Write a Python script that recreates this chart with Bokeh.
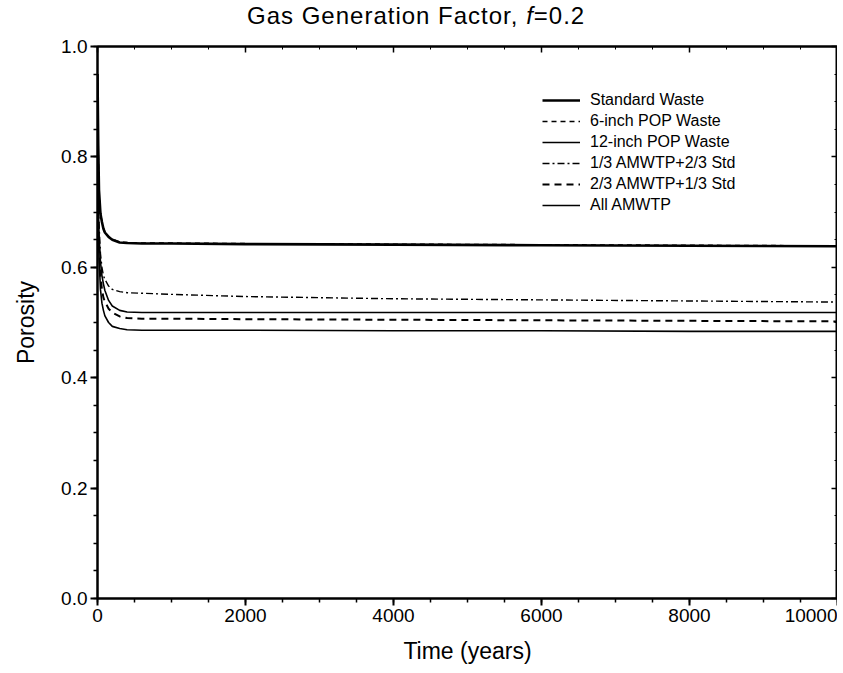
from bokeh.plotting import figure
from bokeh.models import (LinearAxis, Range1d, FixedTicker, Legend, LegendItem, Div)
from bokeh.layouts import column
from bokeh.embed import file_html
from bokeh.resources import INLINE

# ---- data ----
time_years = [0, 10, 20, 40, 60, 80, 100, 150, 200, 300, 400, 600, 1000, 2000, 4000, 6000, 8000, 10000]

standard_waste = [0.95, 0.82, 0.74, 0.697, 0.682, 0.670, 0.663, 0.655, 0.650, 0.645, 0.644, 0.643, 0.643, 0.642, 0.641, 0.640, 0.639, 0.638]
pop6_waste     = [0.95, 0.82, 0.74, 0.698, 0.683, 0.671, 0.664, 0.656, 0.651, 0.646, 0.645, 0.644, 0.644, 0.643, 0.642, 0.641, 0.640, 0.639]
pop12_waste    = [0.90, 0.72, 0.66, 0.610, 0.585, 0.570, 0.558, 0.540, 0.530, 0.522, 0.519, 0.518, 0.518, 0.518, 0.518, 0.518, 0.518, 0.518]
amwtp13_std23  = [0.90, 0.74, 0.68, 0.625, 0.600, 0.585, 0.578, 0.566, 0.560, 0.556, 0.554, 0.553, 0.551, 0.547, 0.543, 0.541, 0.539, 0.537]
amwtp23_std13  = [0.90, 0.70, 0.64, 0.585, 0.560, 0.545, 0.538, 0.525, 0.518, 0.511, 0.508, 0.507, 0.507, 0.506, 0.505, 0.504, 0.503, 0.502]
all_amwtp      = [0.90, 0.68, 0.62, 0.560, 0.535, 0.522, 0.512, 0.500, 0.493, 0.489, 0.487, 0.486, 0.486, 0.486, 0.485, 0.485, 0.484, 0.484]

series_names = ["Standard Waste", "6-inch POP Waste", "12-inch POP Waste",
                "1/3 AMWTP+2/3 Std", "2/3 AMWTP+1/3 Std", "All AMWTP"]

x_ticks = [0, 2000, 4000, 6000, 8000, 10000]
y_ticks = [0.0, 0.2, 0.4, 0.6, 0.8, 1.0]
y_tick_labels = {0.0: "0.0", 0.2: "0.2", 0.4: "0.4", 0.6: "0.6", 0.8: "0.8", 1.0: "1.0"}

FONT = "Liberation Sans"
TITLE_H = 36

p = figure(width=840, height=673 - TITLE_H, output_backend="svg", toolbar_location=None,
           x_range=Range1d(0, 10000), y_range=Range1d(0.0, 1.0),
           frame_width=740, frame_height=552,
           min_border_left=97, min_border_top=46 - TITLE_H, min_border_bottom=75, min_border_right=0,
           margin=(0, 0, 0, 0))
p.grid.visible = False
p.outline_line_color = "black"
p.outline_line_width = 2
p.background_fill_color = "white"
p.border_fill_color = "white"

styles = [
    dict(line_width=2.6, line_dash="solid"),
    dict(line_width=1.4, line_dash="5 4"),
    dict(line_width=1.6, line_dash="solid"),
    dict(line_width=1.4, line_dash="7 3 2 3"),
    dict(line_width=2.0, line_dash="7 5"),
    dict(line_width=1.6, line_dash="solid"),
]
all_series = [standard_waste, pop6_waste, pop12_waste, amwtp13_std23, amwtp23_std13, all_amwtp]
renderers = []
for ys, st in zip(all_series, styles):
    r = p.line(time_years, ys, line_color="black", **st)
    renderers.append(r)

# axes
xa = p.xaxis[0]
ya = p.yaxis[0]
xa.ticker = FixedTicker(ticks=x_ticks, minor_ticks=list(range(0, 10001, 500)))
ya.ticker = FixedTicker(ticks=y_ticks, minor_ticks=[i * 0.05 for i in range(21)])
ya.major_label_overrides = y_tick_labels
for ax in (xa, ya):
    ax.axis_line_width = 2
    ax.major_tick_line_width = 2
    ax.minor_tick_line_width = 1.5
    ax.major_tick_out = 7
    ax.major_tick_in = 0
    ax.minor_tick_out = 4
    ax.minor_tick_in = 0
    ax.major_label_text_font = FONT
    ax.major_label_text_font_size = "19px"
    ax.major_label_text_color = "black"
    ax.axis_label_text_font = FONT
    ax.axis_label_text_font_size = "23px"
    ax.axis_label_text_font_style = "normal"
    ax.axis_label_text_color = "black"
    ax.major_label_standoff = 3
xa.axis_label = "Time (years)"
ya.axis_label = "Porosity"
xa.axis_label_standoff = 13
ya.axis_label_standoff = 19

top = LinearAxis(ticker=FixedTicker(ticks=x_ticks, minor_ticks=list(range(0, 10001, 500))))
right = LinearAxis(ticker=FixedTicker(ticks=y_ticks, minor_ticks=[i * 0.05 for i in range(21)]))
top.major_label_overrides = {t: "" for t in x_ticks}
right.major_label_overrides = {t: "" for t in y_ticks}
for ax in (top, right):
    ax.axis_line_width = 2
    ax.major_tick_in = 6
    ax.major_tick_out = 0
    ax.minor_tick_in = 3
    ax.minor_tick_out = 0
    ax.major_tick_line_width = 1.5
    ax.major_label_text_font_size = "10px"
    ax.major_label_standoff = 0
p.add_layout(top, "above")
p.add_layout(right, "right")

legend = Legend(items=[LegendItem(label=n, renderers=[r]) for n, r in zip(series_names, renderers)],
                location=(445, 383), border_line_alpha=0, background_fill_alpha=0,
                padding=0, margin=0, spacing=1, glyph_width=38, glyph_height=20,
                label_height=20, label_standoff=10,
                label_text_font=FONT, label_text_font_size="16px", label_text_color="black")
p.add_layout(legend, "center")

# title with italic f
title = Div(text='Gas Generation Factor, <i>f</i>=0.2', width=840, height=TITLE_H,
            margin=(0, 0, 0, 0),
            styles={"font-family": "Liberation Sans", "font-size": "24px", "color": "black",
                    "padding-left": "247px", "padding-top": "3px", "line-height": "26px",
                    "letter-spacing": "1px", "white-space": "nowrap"})

layout = column(title, p, spacing=0, margin=(0, 0, 0, 0))

open("out.html", "w").write(file_html(layout, INLINE))
